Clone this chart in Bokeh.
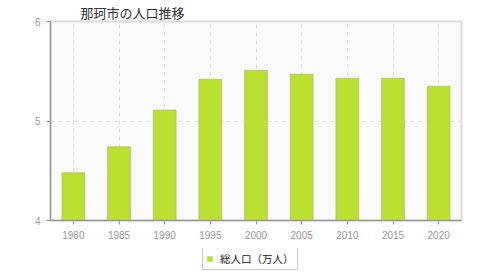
from bokeh.plotting import figure
from bokeh.models import Range1d, FactorRange, FixedTicker, Legend, LegendItem, ColumnDataSource
from bokeh.layouts import column
from bokeh.embed import file_html
from bokeh.resources import INLINE

years = ["1980", "1985", "1990", "1995", "2000", "2005", "2010", "2015", "2020"]
population = [4.48, 4.74, 5.11, 5.42, 5.51, 5.47, 5.43, 5.43, 5.35]
title_text = "那珂市の人口推移"
series_name = "総人口（万人）"

BAR_COLOR = "#BBE030"
src = ColumnDataSource(dict(x=years, top=population))

p = figure(width=480, height=248, output_backend="svg", toolbar_location=None,
           x_range=FactorRange(*years), y_range=Range1d(4, 6),
           min_border_left=50, min_border_right=19, min_border_top=20, min_border_bottom=28)

p.title.text = title_text
p.title.text_font = "Noto Sans CJK JP"
p.title.text_font_size = "13px"
p.title.text_font_style = "normal"
p.title.text_color = "#333333"
p.title.align = "left"
p.title.offset = 30
p.title.standoff = 0

p.background_fill_color = "#FAFAFA"
p.border_fill_color = "white"
p.outline_line_color = "#DDDDDD"
p.outline_line_width = 2

r = p.vbar(x="x", top="top", bottom=4, width=0.5, source=src,
           fill_color=BAR_COLOR, line_color="#A8B070", line_width=0.6)

p.xgrid.grid_line_color = "#E0E0E0"
p.xgrid.grid_line_dash = "4 4"
p.ygrid.grid_line_color = "#E0E0E0"
p.ygrid.grid_line_dash = "4 4"
p.yaxis.ticker = FixedTicker(ticks=[4, 5, 6])

for ax in (p.xaxis[0], p.yaxis[0]):
    ax.axis_line_color = "#999999"
    ax.axis_line_width = 1.5
    ax.major_tick_line_color = "#999999"
    ax.major_tick_out = 4
    ax.major_tick_in = 0
    ax.minor_tick_line_color = None
    ax.major_label_text_color = "#999999"
    ax.major_label_text_font = "Liberation Sans"
    ax.major_label_text_font_size = "10px"
p.xaxis.major_label_standoff = 6
p.yaxis.major_label_standoff = 6

# legend strip
p2 = figure(width=480, height=32, output_backend="svg", toolbar_location=None,
            x_range=Range1d(0, 1), y_range=Range1d(0, 1),
            min_border_left=0, min_border_right=0, min_border_top=0, min_border_bottom=0)
p2.axis.visible = False
p2.grid.visible = False
p2.outline_line_color = None
p2.background_fill_color = "white"
p2.border_fill_color = "white"
offscreen = ColumnDataSource(dict(x=[10], top=[10]))
r2 = p2.vbar(x="x", top="top", bottom=9, width=0.5, source=offscreen,
             fill_color=BAR_COLOR, line_color=None)

legend = Legend(items=[LegendItem(label=series_name, renderers=[r2])],
                location=(152, 10), orientation="horizontal",
                label_text_font="Noto Sans CJK JP", label_text_font_size="10.5px",
                label_text_color="#222222", label_height=12,
                glyph_width=7, glyph_height=7, padding=3, spacing=0,
                label_standoff=7, border_line_color="#999999", border_line_width=1,
                background_fill_color="white", background_fill_alpha=1,
                margin=0)
p2.add_layout(legend, "center")

open("out.html", "w").write(file_html(column(p, p2, spacing=0), INLINE))
